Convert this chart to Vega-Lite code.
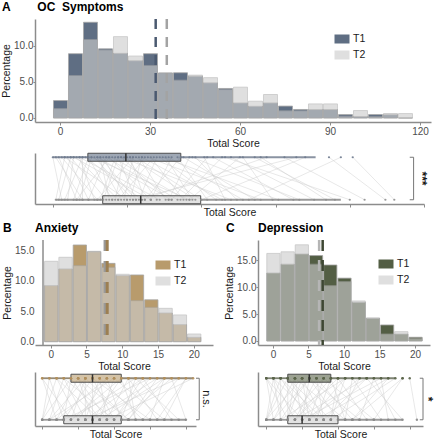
{
"$schema": "https://vega.github.io/schema/vega-lite/v6.json",
"padding": {"left": 1, "top": 0, "right": 0, "bottom": 0},
"config": {
  "font": "Liberation Sans",
  "view": {"stroke": null},
  "axis": {"grid": false, "domainColor": "#8c8c8c", "domainWidth": 1.5, "tickColor": "#8c8c8c", "tickSize": 3, "labelFontSize": 10, "labelColor": "#4d4d4d", "labelPadding": 1, "titleFontSize": 10.5, "titleFontWeight": "normal", "titleColor": "#1a1a1a", "titlePadding": 2},
  "axisY": {"tickSize": 2, "labelPadding": 0},
  "title": {"fontSize": 12, "fontWeight": "bold", "anchor": "start", "frame": "group", "baseline": "alphabetic", "offset": 4, "color": "#000000"},
  "legend": {"symbolType": "M-1,-0.6H1V0.6H-1Z", "symbolSize": 225, "symbolStrokeColor": "#b0b0b0", "symbolStrokeWidth": 0.8, "labelFontSize": 10.5, "labelColor": "#1a1a1a", "rowPadding": 1, "labelOffset": 3, "padding": 0}
},
"datasets": {
  "histA": [
    {"lo": -2.5, "hi": 2.5, "T1": 2.42, "T2": 1.3},
    {"lo": 2.5, "hi": 7.5, "T1": 8.93, "T2": 5.9},
    {"lo": 7.5, "hi": 12.5, "T1": 13.3, "T2": 10.9},
    {"lo": 12.5, "hi": 17.5, "T1": 9.6, "T2": 9.45},
    {"lo": 17.5, "hi": 22.5, "T1": 8.98, "T2": 11.3},
    {"lo": 22.5, "hi": 27.5, "T1": 7.95, "T2": 8.6},
    {"lo": 27.5, "hi": 32.5, "T1": 8.93, "T2": 7.3},
    {"lo": 32.5, "hi": 37.5, "T1": 6.25, "T2": 6.25},
    {"lo": 37.5, "hi": 42.5, "T1": 6.28, "T2": 5.26},
    {"lo": 42.5, "hi": 47.5, "T1": 5.8, "T2": 5.95},
    {"lo": 47.5, "hi": 52.5, "T1": 4.88, "T2": 5.6},
    {"lo": 52.5, "hi": 57.5, "T1": 4.1, "T2": 3.95},
    {"lo": 57.5, "hi": 62.5, "T1": 2.09, "T2": 4.28},
    {"lo": 62.5, "hi": 67.5, "T1": 1.63, "T2": 2.33},
    {"lo": 67.5, "hi": 72.5, "T1": 2.09, "T2": 3.26},
    {"lo": 72.5, "hi": 77.5, "T1": 1.65, "T2": 1.0},
    {"lo": 77.5, "hi": 82.5, "T1": 1.18, "T2": 1.0},
    {"lo": 82.5, "hi": 87.5, "T1": 1.17, "T2": 1.95},
    {"lo": 87.5, "hi": 92.5, "T1": 1.17, "T2": 1.95},
    {"lo": 92.5, "hi": 97.5, "T1": 0.47, "T2": 0.25},
    {"lo": 97.5, "hi": 102.5, "T1": 0.2, "T2": 1.03},
    {"lo": 102.5, "hi": 107.5, "T1": 0.47, "T2": 0.2},
    {"lo": 107.5, "hi": 112.5, "T1": 0.45, "T2": 0.62},
    {"lo": 112.5, "hi": 117.5, "T1": 0, "T2": 0.61}
  ],
  "meanA": [{"time": "T2", "mean": 35.6}, {"time": "T1", "mean": 31.9}],
  "boxA": [
    {"time": "T1", "lo": 0, "q1": 11.8, "med": 24.6, "q3": 43.1, "hi": 88.5},
    {"time": "T2", "lo": 1, "q1": 16.8, "med": 29.6, "q3": 49.8, "hi": 97}
  ],
  "sigA": [{"sig": "***"}],
  "subjA": [
    {"id": 1, "T1": 0, "T2": 3}, {"id": 2, "T1": 2, "T2": 8}, {"id": 3, "T1": 4, "T2": 1}, {"id": 4, "T1": 5, "T2": 12},
    {"id": 5, "T1": 6, "T2": 18}, {"id": 6, "T1": 7, "T2": 5}, {"id": 7, "T1": 8, "T2": 22}, {"id": 8, "T1": 9, "T2": 14},
    {"id": 9, "T1": 10, "T2": 10}, {"id": 10, "T1": 11, "T2": 30}, {"id": 11, "T1": 12, "T2": 20}, {"id": 12, "T1": 13, "T2": 9},
    {"id": 13, "T1": 14, "T2": 27}, {"id": 14, "T1": 15, "T2": 40}, {"id": 15, "T1": 16, "T2": 19}, {"id": 16, "T1": 17, "T2": 25},
    {"id": 17, "T1": 18, "T2": 12}, {"id": 18, "T1": 19, "T2": 33}, {"id": 19, "T1": 20, "T2": 45}, {"id": 20, "T1": 21, "T2": 16},
    {"id": 21, "T1": 22, "T2": 28}, {"id": 22, "T1": 23, "T2": 60}, {"id": 23, "T1": 24, "T2": 21}, {"id": 24, "T1": 25, "T2": 35},
    {"id": 25, "T1": 26, "T2": 31}, {"id": 26, "T1": 27, "T2": 24}, {"id": 27, "T1": 28, "T2": 50}, {"id": 28, "T1": 29, "T2": 38},
    {"id": 29, "T1": 30, "T2": 26}, {"id": 30, "T1": 32, "T2": 70}, {"id": 31, "T1": 33, "T2": 44}, {"id": 32, "T1": 35, "T2": 29},
    {"id": 33, "T1": 36, "T2": 55}, {"id": 34, "T1": 38, "T2": 47}, {"id": 35, "T1": 40, "T2": 33}, {"id": 36, "T1": 42, "T2": 52},
    {"id": 37, "T1": 44, "T2": 68}, {"id": 38, "T1": 46, "T2": 39}, {"id": 39, "T1": 48, "T2": 62}, {"id": 40, "T1": 51, "T2": 58},
    {"id": 41, "T1": 54, "T2": 81}, {"id": 42, "T1": 57, "T2": 43}, {"id": 43, "T1": 60, "T2": 88}, {"id": 44, "T1": 64, "T2": 74},
    {"id": 45, "T1": 68, "T2": 95}, {"id": 46, "T1": 72, "T2": 30}, {"id": 47, "T1": 78, "T2": 105}, {"id": 48, "T1": 85, "T2": 50},
    {"id": 49, "T1": 93, "T2": 112}, {"id": 50, "T1": 101, "T2": 115}, {"id": 51, "T1": 3, "T2": 15}, {"id": 52, "T1": 6, "T2": 2},
    {"id": 53, "T1": 9, "T2": 36}, {"id": 54, "T1": 12, "T2": 7}, {"id": 55, "T1": 15, "T2": 23}, {"id": 56, "T1": 18, "T2": 42},
    {"id": 57, "T1": 22, "T2": 17}, {"id": 58, "T1": 26, "T2": 48}, {"id": 59, "T1": 31, "T2": 20}, {"id": 60, "T1": 37, "T2": 76},
    {"id": 61, "T1": 1, "T2": 10}, {"id": 62, "T1": 4, "T2": 25}, {"id": 63, "T1": 7, "T2": 33}, {"id": 64, "T1": 10, "T2": 4},
    {"id": 65, "T1": 13, "T2": 46}, {"id": 66, "T1": 16, "T2": 28}, {"id": 67, "T1": 19, "T2": 8}, {"id": 68, "T1": 23, "T2": 39},
    {"id": 69, "T1": 27, "T2": 15}, {"id": 70, "T1": 30, "T2": 57}, {"id": 71, "T1": 34, "T2": 22}, {"id": 72, "T1": 39, "T2": 64},
    {"id": 73, "T1": 43, "T2": 31}, {"id": 74, "T1": 47, "T2": 83}, {"id": 75, "T1": 52, "T2": 40}, {"id": 76, "T1": 58, "T2": 100},
    {"id": 77, "T1": 63, "T2": 46}, {"id": 78, "T1": 70, "T2": 92}, {"id": 79, "T1": 82, "T2": 27}, {"id": 80, "T1": 97, "T2": 66}
  ],
  "histB": [
    {"lo": -1, "hi": 1, "T1": 9.23, "T2": 13.24},
    {"lo": 1, "hi": 3, "T1": 11.98, "T2": 13.9},
    {"lo": 3, "hi": 5, "T1": 15.93, "T2": 12.53},
    {"lo": 5, "hi": 7, "T1": 14.8, "T2": 14.89},
    {"lo": 7, "hi": 9, "T1": 12.9, "T2": 12.25},
    {"lo": 9, "hi": 11, "T1": 10.88, "T2": 11.1},
    {"lo": 11, "hi": 13, "T1": 10.99, "T2": 6.76},
    {"lo": 13, "hi": 15, "T1": 6.9, "T2": 5.66},
    {"lo": 15, "hi": 17, "T1": 4.72, "T2": 5.49},
    {"lo": 17, "hi": 19, "T1": 2.8, "T2": 4.4},
    {"lo": 19, "hi": 21, "T1": 0.71, "T2": 1.26}
  ],
  "meanB": [{"time": "T2", "mean": 7.6}, {"time": "T1", "mean": 7.9}],
  "boxB": [
    {"time": "T1", "lo": 0, "q1": 4, "med": 7, "q3": 11, "hi": 21},
    {"time": "T2", "lo": 0, "q1": 3, "med": 7, "q3": 11, "hi": 20}
  ],
  "sigB": [{"sig": "n.s."}],
  "subjB": [
    {"id": 1, "T1": 0, "T2": 2}, {"id": 2, "T1": 1, "T2": 0}, {"id": 3, "T1": 2, "T2": 5}, {"id": 4, "T1": 3, "T2": 1},
    {"id": 5, "T1": 4, "T2": 3}, {"id": 6, "T1": 4, "T2": 8}, {"id": 7, "T1": 5, "T2": 2}, {"id": 8, "T1": 5, "T2": 9},
    {"id": 9, "T1": 6, "T2": 4}, {"id": 10, "T1": 6, "T2": 12}, {"id": 11, "T1": 7, "T2": 7}, {"id": 12, "T1": 7, "T2": 3},
    {"id": 13, "T1": 7, "T2": 10}, {"id": 14, "T1": 8, "T2": 6}, {"id": 15, "T1": 8, "T2": 14}, {"id": 16, "T1": 9, "T2": 5},
    {"id": 17, "T1": 9, "T2": 11}, {"id": 18, "T1": 10, "T2": 8}, {"id": 19, "T1": 10, "T2": 1}, {"id": 20, "T1": 11, "T2": 13},
    {"id": 21, "T1": 11, "T2": 7}, {"id": 22, "T1": 12, "T2": 9}, {"id": 23, "T1": 12, "T2": 16}, {"id": 24, "T1": 13, "T2": 4},
    {"id": 25, "T1": 13, "T2": 11}, {"id": 26, "T1": 14, "T2": 18}, {"id": 27, "T1": 14, "T2": 6}, {"id": 28, "T1": 15, "T2": 10},
    {"id": 29, "T1": 15, "T2": 3}, {"id": 30, "T1": 16, "T2": 12}, {"id": 31, "T1": 17, "T2": 15}, {"id": 32, "T1": 17, "T2": 8},
    {"id": 33, "T1": 18, "T2": 20}, {"id": 34, "T1": 18, "T2": 11}, {"id": 35, "T1": 19, "T2": 14}, {"id": 36, "T1": 20, "T2": 17},
    {"id": 37, "T1": 21, "T2": 9}, {"id": 38, "T1": 3, "T2": 6}, {"id": 39, "T1": 2, "T2": 0}, {"id": 40, "T1": 5, "T2": 7},
    {"id": 41, "T1": 0, "T2": 4}, {"id": 42, "T1": 1, "T2": 3}, {"id": 43, "T1": 2, "T2": 8}, {"id": 44, "T1": 3, "T2": 10},
    {"id": 45, "T1": 4, "T2": 0}, {"id": 46, "T1": 5, "T2": 12}, {"id": 47, "T1": 6, "T2": 6}, {"id": 48, "T1": 6, "T2": 1},
    {"id": 49, "T1": 7, "T2": 15}, {"id": 50, "T1": 8, "T2": 9}, {"id": 51, "T1": 9, "T2": 2}, {"id": 52, "T1": 10, "T2": 17},
    {"id": 53, "T1": 11, "T2": 4}, {"id": 54, "T1": 12, "T2": 13}, {"id": 55, "T1": 13, "T2": 19}, {"id": 56, "T1": 14, "T2": 10},
    {"id": 57, "T1": 16, "T2": 7}, {"id": 58, "T1": 17, "T2": 12}, {"id": 59, "T1": 19, "T2": 6}, {"id": 60, "T1": 20, "T2": 16}
  ],
  "histC": [
    {"lo": -1, "hi": 1, "T1": 12.66, "T2": 16.3},
    {"lo": 1, "hi": 3, "T1": 14.3, "T2": 16.6},
    {"lo": 3, "hi": 5, "T1": 16.2, "T2": 17.9},
    {"lo": 5, "hi": 7, "T1": 15.9, "T2": 14.3},
    {"lo": 7, "hi": 9, "T1": 14.15, "T2": 10.3},
    {"lo": 9, "hi": 11, "T1": 11.7, "T2": 11.05},
    {"lo": 11, "hi": 13, "T1": 7.2, "T2": 7.45},
    {"lo": 13, "hi": 15, "T1": 4.2, "T2": 4.3},
    {"lo": 15, "hi": 17, "T1": 2.98, "T2": 1.3},
    {"lo": 17, "hi": 19, "T1": 1.3, "T2": 1.73},
    {"lo": 19, "hi": 21, "T1": 0.69, "T2": 0.5}
  ],
  "meanC": [{"time": "T2", "mean": 6.5}, {"time": "T1", "mean": 7.0}],
  "boxC": [
    {"time": "T1", "lo": 0, "q1": 3, "med": 6, "q3": 9, "hi": 18},
    {"time": "T2", "lo": 0, "q1": 3, "med": 5, "q3": 10, "hi": 19}
  ],
  "sigC": [{"sig": "*"}],
  "subjC": [
    {"id": 1, "T1": 0, "T2": 1}, {"id": 2, "T1": 1, "T2": 0}, {"id": 3, "T1": 1, "T2": 4}, {"id": 4, "T1": 2, "T2": 2},
    {"id": 5, "T1": 2, "T2": 6}, {"id": 6, "T1": 3, "T2": 0}, {"id": 7, "T1": 3, "T2": 3}, {"id": 8, "T1": 4, "T2": 5},
    {"id": 9, "T1": 4, "T2": 1}, {"id": 10, "T1": 5, "T2": 8}, {"id": 11, "T1": 5, "T2": 3}, {"id": 12, "T1": 6, "T2": 2},
    {"id": 13, "T1": 6, "T2": 10}, {"id": 14, "T1": 6, "T2": 5}, {"id": 15, "T1": 7, "T2": 4}, {"id": 16, "T1": 7, "T2": 12},
    {"id": 17, "T1": 8, "T2": 6}, {"id": 18, "T1": 8, "T2": 3}, {"id": 19, "T1": 9, "T2": 11}, {"id": 20, "T1": 9, "T2": 7},
    {"id": 21, "T1": 10, "T2": 14}, {"id": 22, "T1": 10, "T2": 4}, {"id": 23, "T1": 11, "T2": 9}, {"id": 24, "T1": 11, "T2": 2},
    {"id": 25, "T1": 12, "T2": 16}, {"id": 26, "T1": 13, "T2": 6}, {"id": 27, "T1": 13, "T2": 10}, {"id": 28, "T1": 14, "T2": 19},
    {"id": 29, "T1": 14, "T2": 8}, {"id": 30, "T1": 15, "T2": 13}, {"id": 31, "T1": 16, "T2": 5}, {"id": 32, "T1": 16, "T2": 17},
    {"id": 33, "T1": 17, "T2": 12}, {"id": 34, "T1": 18, "T2": 9}, {"id": 35, "T1": 19, "T2": 15}, {"id": 36, "T1": 20, "T2": 21},
    {"id": 37, "T1": 2, "T2": 8}, {"id": 38, "T1": 0, "T2": 3}, {"id": 39, "T1": 3, "T2": 7}, {"id": 40, "T1": 5, "T2": 0},
    {"id": 41, "T1": 0, "T2": 5}, {"id": 42, "T1": 1, "T2": 2}, {"id": 43, "T1": 1, "T2": 7}, {"id": 44, "T1": 2, "T2": 0},
    {"id": 45, "T1": 3, "T2": 9}, {"id": 46, "T1": 4, "T2": 3}, {"id": 47, "T1": 4, "T2": 11}, {"id": 48, "T1": 5, "T2": 6},
    {"id": 49, "T1": 6, "T2": 1}, {"id": 50, "T1": 6, "T2": 13}, {"id": 51, "T1": 7, "T2": 8}, {"id": 52, "T1": 8, "T2": 15},
    {"id": 53, "T1": 9, "T2": 4}, {"id": 54, "T1": 10, "T2": 9}, {"id": 55, "T1": 11, "T2": 6}, {"id": 56, "T1": 12, "T2": 11},
    {"id": 57, "T1": 14, "T2": 4}, {"id": 58, "T1": 15, "T2": 18}, {"id": 59, "T1": 17, "T2": 7}, {"id": 60, "T1": 19, "T2": 12}
  ]
},
"resolve": {"scale": {"color": "independent", "opacity": "independent"}, "legend": {"color": "independent", "opacity": "independent"}},
"vconcat": [
  {
    "vconcat": [
      {
        "width": 396, "height": 103,
        "title": {"text": "A\u00a0\u00a0\u00a0\u00a0\u00a0\u00a0\u00a0\u00a0OC\u00a0\u00a0Symptoms", "dx": -33},
        "layer": [
          {
            "data": {"name": "histA"},
            "transform": [{"fold": ["T1", "T2"], "as": ["time", "pct"]}],
            "mark": {"type": "bar", "stroke": "#a6a6a6", "strokeWidth": 0.8},
            "encoding": {
              "x": {"field": "lo", "type": "quantitative", "bin": "binned", "scale": {"domain": [-8.33, 123.67], "nice": false, "zero": false}, "axis": {"values": [0, 30, 60, 90, 120], "title": "Total Score"}},
              "x2": {"field": "hi"},
              "y": {"field": "pct", "type": "quantitative", "stack": null, "scale": {"domain": [-0.56, 13.75], "nice": false, "zero": false}, "axis": {"values": [0, 5, 10], "format": ".1f", "title": "Percentage"}},
              "y2": {"datum": 0},
              "color": {"field": "time", "type": "nominal", "scale": {"domain": ["T1", "T2"], "range": ["#5f6e83", "#cdcdcd"]}, "legend": {"title": null, "orient": "none", "legendX": 299, "legendY": 12}},
              "opacity": {"field": "time", "type": "nominal", "scale": {"domain": ["T1", "T2"], "range": [1, 0.62]}, "legend": {"title": null, "orient": "none", "legendX": 299, "legendY": 12}}
            }
          },
          {
            "data": {"name": "meanA"},
            "mark": {"type": "rule", "strokeDash": [10, 8], "strokeWidth": 2.5},
            "encoding": {
              "x": {"field": "mean", "type": "quantitative"},
              "color": {"condition": {"test": "datum.time === 'T1'", "value": "#4b5a70"}, "value": "#a3a3a3"}
            }
          }
        ]
      },
      {
        "width": 389, "height": 51,
        "layer": [
          {
            "data": {"name": "subjA"},
            "transform": [{"fold": ["T1", "T2"], "as": ["time", "score"]}],
            "mark": {"type": "line", "color": "#cccccc", "strokeWidth": 0.6, "opacity": 0.75},
            "encoding": {
              "x": {"field": "score", "type": "quantitative", "scale": {"domain": [-6, 125], "nice": false, "zero": false}, "axis": {"values": [0, 25, 50, 75, 100, 125], "labels": false, "title": "Total Score", "titlePadding": 0}},
              "y": {"field": "time", "type": "nominal", "scale": {"type": "point", "domain": ["T1", "mid", "T2"], "padding": 0.2}, "axis": {"labels": false, "ticks": false, "title": null}},
              "detail": {"field": "id", "type": "nominal"}
            }
          },
          {
            "data": {"name": "boxA"},
            "mark": {"type": "rule", "strokeWidth": 1.8},
            "encoding": {"x": {"field": "lo", "type": "quantitative"}, "x2": {"field": "q1"}, "y": {"field": "time", "type": "nominal"}, "color": {"condition": {"test": "datum.time === 'T1'", "value": "#8a93a2"}, "value": "#9a9a9a"}}
          },
          {
            "data": {"name": "boxA"},
            "mark": {"type": "rule", "strokeWidth": 1.8},
            "encoding": {"x": {"field": "q3", "type": "quantitative"}, "x2": {"field": "hi"}, "y": {"field": "time", "type": "nominal"}, "color": {"condition": {"test": "datum.time === 'T1'", "value": "#8a93a2"}, "value": "#9a9a9a"}}
          },
          {
            "data": {"name": "boxA"},
            "mark": {"type": "bar", "height": 8, "stroke": "#4d4d4d", "strokeWidth": 1, "fillOpacity": 0.6},
            "encoding": {"x": {"field": "q1", "type": "quantitative"}, "x2": {"field": "q3"}, "y": {"field": "time", "type": "nominal"}, "fill": {"condition": {"test": "datum.time === 'T1'", "value": "#5f6e83"}, "value": "#cfcfcf"}}
          },
          {
            "data": {"name": "subjA"},
            "transform": [{"fold": ["T1", "T2"], "as": ["time", "score"]}],
            "mark": {"type": "circle", "size": 5, "opacity": 0.9},
            "encoding": {"x": {"field": "score", "type": "quantitative"}, "y": {"field": "time", "type": "nominal"}, "color": {"condition": {"test": "datum.time === 'T1'", "value": "#6f7b8f"}, "value": "#8f8f8f"}}
          },
          {
            "data": {"name": "boxA"},
            "mark": {"type": "tick", "size": 8, "thickness": 1.5, "color": "#333333", "opacity": 1},
            "encoding": {"x": {"field": "med", "type": "quantitative"}, "y": {"field": "time", "type": "nominal"}}
          },
          {
            "data": {"name": "boxA"},
            "mark": {"type": "rule", "color": "#777777", "strokeWidth": 1},
            "encoding": {"x": {"datum": 120.2}, "x2": {"datum": 121.5}, "y": {"field": "time", "type": "nominal"}}
          },
          {
            "data": {"name": "sigA"},
            "mark": {"type": "rule", "color": "#777777", "strokeWidth": 1},
            "encoding": {"x": {"datum": 121.5}, "y": {"datum": "T1"}, "y2": {"datum": "T2"}}
          },
          {
            "data": {"name": "sigA"},
            "mark": {"type": "text", "angle": 90, "fontSize": 12, "fontWeight": "bold", "color": "#1a1a1a", "align": "center", "baseline": "middle"},
            "encoding": {"x": {"datum": 124.2}, "y": {"datum": "mid"}, "text": {"field": "sig"}}
          }
        ]
      }
    ],
    "spacing": 31,
    "bounds": "flush"
  },
  {
    "resolve": {"scale": {"color": "independent", "opacity": "independent"}, "legend": {"color": "independent", "opacity": "independent"}},
    "hconcat": [
      {
        "vconcat": [
          {
            "width": 178, "height": 105,
            "title": {"text": "B\u00a0\u00a0\u00a0\u00a0\u00a0\u00a0\u00a0Anxiety", "dx": -32},
            "layer": [
              {
                "data": {"name": "histB"},
                "transform": [{"fold": ["T1", "T2"], "as": ["time", "pct"]}],
                "mark": {"type": "bar", "stroke": "#a6a6a6", "strokeWidth": 0.8},
                "encoding": {
                  "x": {"field": "lo", "type": "quantitative", "bin": "binned", "scale": {"domain": [-2.2, 22.7], "nice": false, "zero": false}, "axis": {"values": [0, 5, 10, 15, 20], "title": "Total Score"}},
                  "x2": {"field": "hi"},
                  "y": {"field": "pct", "type": "quantitative", "stack": null, "scale": {"domain": [-0.55, 16.75], "nice": false, "zero": false}, "axis": {"values": [0, 5, 10, 15], "format": ".1f", "title": "Percentage", "domain": false, "ticks": false, "tickSize": 0, "labelPadding": 1}},
                  "y2": {"datum": 0},
                  "color": {"field": "time", "type": "nominal", "scale": {"domain": ["T1", "T2"], "range": ["#b89b6c", "#cdcdcd"]}, "legend": {"title": null, "orient": "none", "legendX": 120, "legendY": 17}},
                  "opacity": {"field": "time", "type": "nominal", "scale": {"domain": ["T1", "T2"], "range": [1, 0.62]}, "legend": {"title": null, "orient": "none", "legendX": 120, "legendY": 17}}
                }
              },
              {
                "data": {"name": "sigB"},
                "mark": {"type": "rule", "color": "#8c8c8c", "strokeWidth": 1.5},
                "encoding": {"x": {"datum": -1.08}}
              },
              {
                "data": {"name": "meanB"},
                "mark": {"type": "rule", "strokeDash": [11, 10], "strokeWidth": 3},
                "encoding": {
                  "x": {"field": "mean", "type": "quantitative"},
                  "color": {"condition": {"test": "datum.time === 'T1'", "value": "#9c7f52"}, "value": "#9a9a9a"}
                }
              }
            ]
          },
          {
            "width": 161, "height": 54,
            "layer": [
              {
                "data": {"name": "subjB"},
                "transform": [{"fold": ["T1", "T2"], "as": ["time", "score"]}],
                "mark": {"type": "line", "color": "#cccccc", "strokeWidth": 0.6, "opacity": 0.75},
                "encoding": {
                  "x": {"field": "score", "type": "quantitative", "scale": {"domain": [-1, 21.4], "nice": false, "zero": false}, "axis": {"values": [0, 5, 10, 15, 20], "labels": false, "title": "Total Score", "titlePadding": 0}},
                  "y": {"field": "time", "type": "nominal", "scale": {"type": "point", "domain": ["T1", "mid", "T2"], "padding": 0.3}, "axis": {"labels": false, "ticks": false, "title": null}},
                  "detail": {"field": "id", "type": "nominal"}
                }
              },
              {
                "data": {"name": "boxB"},
                "mark": {"type": "rule", "strokeWidth": 1.8},
                "encoding": {"x": {"field": "lo", "type": "quantitative"}, "x2": {"field": "q1"}, "y": {"field": "time", "type": "nominal"}, "color": {"condition": {"test": "datum.time === 'T1'", "value": "#958a78"}, "value": "#9a9a9a"}}
              },
              {
                "data": {"name": "boxB"},
                "mark": {"type": "rule", "strokeWidth": 1.8},
                "encoding": {"x": {"field": "q3", "type": "quantitative"}, "x2": {"field": "hi"}, "y": {"field": "time", "type": "nominal"}, "color": {"condition": {"test": "datum.time === 'T1'", "value": "#958a78"}, "value": "#9a9a9a"}}
              },
              {
                "data": {"name": "boxB"},
                "mark": {"type": "bar", "height": 8, "stroke": "#4d4d4d", "strokeWidth": 1, "fillOpacity": 0.6},
                "encoding": {"x": {"field": "q1", "type": "quantitative"}, "x2": {"field": "q3"}, "y": {"field": "time", "type": "nominal"}, "fill": {"condition": {"test": "datum.time === 'T1'", "value": "#b89b6c"}, "value": "#cfcfcf"}}
              },
              {
                "data": {"name": "subjB"},
                "transform": [{"fold": ["T1", "T2"], "as": ["time", "score"]}],
                "mark": {"type": "circle", "size": 6, "opacity": 0.9},
                "encoding": {"x": {"field": "score", "type": "quantitative"}, "y": {"field": "time", "type": "nominal"}, "color": {"condition": {"test": "datum.time === 'T1'", "value": "#b08f5c"}, "value": "#8a8a8a"}}
              },
              {
                "data": {"name": "boxB"},
                "mark": {"type": "tick", "size": 8, "thickness": 1.5, "color": "#333333", "opacity": 1},
                "encoding": {"x": {"field": "med", "type": "quantitative"}, "y": {"field": "time", "type": "nominal"}}
              },
              {
                "data": {"name": "boxB"},
                "mark": {"type": "rule", "color": "#777777", "strokeWidth": 1},
                "encoding": {"x": {"datum": 21.4}, "x2": {"datum": 21.85}, "y": {"field": "time", "type": "nominal"}}
              },
              {
                "data": {"name": "sigB"},
                "mark": {"type": "rule", "color": "#777777", "strokeWidth": 1},
                "encoding": {"x": {"datum": 21.85}, "y": {"datum": "T1"}, "y2": {"datum": "T2"}}
              },
              {
                "data": {"name": "sigB"},
                "mark": {"type": "text", "angle": 90, "fontSize": 11, "color": "#1a1a1a", "align": "center", "baseline": "middle"},
                "encoding": {"x": {"datum": 22.85}, "y": {"datum": "mid"}, "text": {"field": "sig"}}
              }
            ]
          }
        ],
        "spacing": 27,
        "bounds": "flush"
      },
      {
        "vconcat": [
          {
            "width": 172, "height": 105,
            "title": {"text": "C\u00a0\u00a0\u00a0\u00a0\u00a0\u00a0\u00a0Depression", "dx": -32},
            "layer": [
              {
                "data": {"name": "histC"},
                "transform": [{"fold": ["T1", "T2"], "as": ["time", "pct"]}],
                "mark": {"type": "bar", "stroke": "#a6a6a6", "strokeWidth": 0.8},
                "encoding": {
                  "x": {"field": "lo", "type": "quantitative", "bin": "binned", "scale": {"domain": [-2.1, 22.1], "nice": false, "zero": false}, "axis": {"values": [0, 5, 10, 15, 20], "title": "Total Score"}},
                  "x2": {"field": "hi"},
                  "y": {"field": "pct", "type": "quantitative", "stack": null, "scale": {"domain": [-0.75, 18.8], "nice": false, "zero": false}, "axis": {"values": [0, 5, 10, 15], "format": ".1f", "title": "Percentage"}},
                  "y2": {"datum": 0},
                  "color": {"field": "time", "type": "nominal", "scale": {"domain": ["T1", "T2"], "range": ["#535e44", "#cdcdcd"]}, "legend": {"title": null, "orient": "none", "legendX": 120, "legendY": 16}},
                  "opacity": {"field": "time", "type": "nominal", "scale": {"domain": ["T1", "T2"], "range": [1, 0.62]}, "legend": {"title": null, "orient": "none", "legendX": 120, "legendY": 16}}
                }
              },
              {
                "data": {"name": "meanC"},
                "mark": {"type": "rule", "strokeDash": [11, 9], "strokeWidth": 2.5},
                "encoding": {
                  "x": {"field": "mean", "type": "quantitative"},
                  "color": {"condition": {"test": "datum.time === 'T1'", "value": "#3e4733"}, "value": "#b5b5b5"}
                }
              }
            ]
          },
          {
            "width": 165, "height": 54,
            "layer": [
              {
                "data": {"name": "subjC"},
                "transform": [{"fold": ["T1", "T2"], "as": ["time", "score"]}],
                "mark": {"type": "line", "color": "#cccccc", "strokeWidth": 0.6, "opacity": 0.75},
                "encoding": {
                  "x": {"field": "score", "type": "quantitative", "scale": {"domain": [-1.15, 21.85], "nice": false, "zero": false}, "axis": {"values": [0, 5, 10, 15, 20], "labels": false, "title": "Total Score", "titlePadding": 0}},
                  "y": {"field": "time", "type": "nominal", "scale": {"type": "point", "domain": ["T1", "mid", "T2"], "padding": 0.3}, "axis": {"labels": false, "ticks": false, "title": null}},
                  "detail": {"field": "id", "type": "nominal"}
                }
              },
              {
                "data": {"name": "boxC"},
                "mark": {"type": "rule", "strokeWidth": 1.8},
                "encoding": {"x": {"field": "lo", "type": "quantitative"}, "x2": {"field": "q1"}, "y": {"field": "time", "type": "nominal"}, "color": {"condition": {"test": "datum.time === 'T1'", "value": "#7f8474"}, "value": "#9a9a9a"}}
              },
              {
                "data": {"name": "boxC"},
                "mark": {"type": "rule", "strokeWidth": 1.8},
                "encoding": {"x": {"field": "q3", "type": "quantitative"}, "x2": {"field": "hi"}, "y": {"field": "time", "type": "nominal"}, "color": {"condition": {"test": "datum.time === 'T1'", "value": "#7f8474"}, "value": "#9a9a9a"}}
              },
              {
                "data": {"name": "boxC"},
                "mark": {"type": "bar", "height": 8, "stroke": "#4d4d4d", "strokeWidth": 1, "fillOpacity": 0.6},
                "encoding": {"x": {"field": "q1", "type": "quantitative"}, "x2": {"field": "q3"}, "y": {"field": "time", "type": "nominal"}, "fill": {"condition": {"test": "datum.time === 'T1'", "value": "#5a6449"}, "value": "#cfcfcf"}}
              },
              {
                "data": {"name": "subjC"},
                "transform": [{"fold": ["T1", "T2"], "as": ["time", "score"]}],
                "mark": {"type": "circle", "size": 6, "opacity": 0.9},
                "encoding": {"x": {"field": "score", "type": "quantitative"}, "y": {"field": "time", "type": "nominal"}, "color": {"condition": {"test": "datum.time === 'T1'", "value": "#5a6449"}, "value": "#8a8a8a"}}
              },
              {
                "data": {"name": "boxC"},
                "mark": {"type": "tick", "size": 8, "thickness": 1.5, "color": "#333333", "opacity": 1},
                "encoding": {"x": {"field": "med", "type": "quantitative"}, "y": {"field": "time", "type": "nominal"}}
              },
              {
                "data": {"name": "boxC"},
                "mark": {"type": "rule", "color": "#777777", "strokeWidth": 1},
                "encoding": {"x": {"datum": 21.4}, "x2": {"datum": 21.85}, "y": {"field": "time", "type": "nominal"}}
              },
              {
                "data": {"name": "sigC"},
                "mark": {"type": "rule", "color": "#777777", "strokeWidth": 1},
                "encoding": {"x": {"datum": 21.85}, "y": {"datum": "T1"}, "y2": {"datum": "T2"}}
              },
              {
                "data": {"name": "sigC"},
                "mark": {"type": "text", "angle": 90, "fontSize": 12, "fontWeight": "bold", "color": "#1a1a1a", "align": "center", "baseline": "middle"},
                "encoding": {"x": {"datum": 22.5}, "y": {"datum": "mid"}, "text": {"field": "sig"}}
              }
            ]
          }
        ],
        "spacing": 27,
        "bounds": "flush"
      }
    ],
    "spacing": 11
  }
],
"spacing": 3
}
